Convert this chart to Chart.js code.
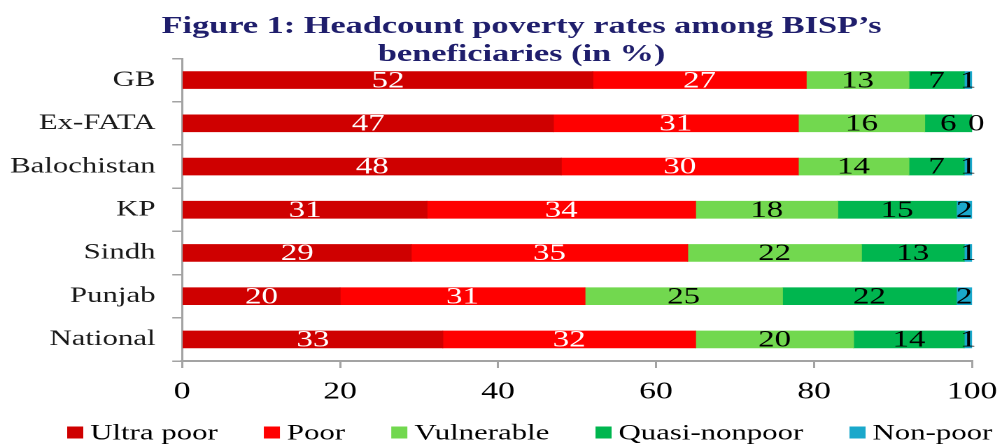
<!DOCTYPE html>
<html>
<head>
<meta charset="utf-8">
<script src="https://cdn.jsdelivr.net/npm/chart.js@4/dist/chart.umd.min.js"></script>
<style>
  html, body { margin: 0; padding: 0; background: #ffffff; overflow: hidden; }
  #wrap { position: absolute; left: 0; top: 0; width: 716px; height: 445px;
          transform: scaleX(1.39944); transform-origin: 0 0; }
  #c { display: block; }
</style>
</head>
<body>
<div id="wrap"><canvas id="c" width="716" height="445" style="width:716px;height:445px"></canvas></div>
<script>
const titleLines = ["Figure 1: Headcount poverty rates among BISP\u2019s", "beneficiaries (in %)"];
const categories = ["GB", "Ex-FATA", "Balochistan", "KP", "Sindh", "Punjab", "National"];
const seriesNames = ["Ultra poor", "Poor", "Vulnerable", "Quasi-nonpoor", "Non-poor"];
const ultraPoor    = [52, 47, 48, 31, 29, 20, 33];
const poor         = [27, 31, 30, 34, 35, 31, 32];
const vulnerable   = [13, 16, 14, 18, 22, 25, 20];
const quasiNonpoor = [7, 6, 7, 15, 13, 22, 14];
const nonPoor      = [1, 0, 1, 2, 1, 2, 1];
const xTicks = [0, 20, 40, 60, 80, 100];

const colors = ["#CF0000", "#FF0000", "#72D84F", "#00B64F", "#1AA8CB"];
const labelColors = ["#ffffff", "#ffffff", "#000000", "#000000", "#000000"];
const seriesValues = [ultraPoor, poor, vulnerable, quasiNonpoor, nonPoor];
const SERIF = '"Liberation Serif", "Times New Roman", serif';

const datasets = seriesNames.map((name, i) => ({
  label: name,
  data: seriesValues[i],
  backgroundColor: colors[i],
  borderWidth: 0,
  barThickness: 17
}));

const valueLabels = {
  id: 'valueLabels',
  afterDatasetsDraw(chart) {
    const ctx = chart.ctx;
    ctx.save();
    ctx.font = '23.5px ' + SERIF;
    ctx.textAlign = 'center';
    ctx.textBaseline = 'middle';
    chart.data.datasets.forEach((ds, di) => {
      const meta = chart.getDatasetMeta(di);
      meta.data.forEach((el, i) => {
        const v = ds.data[i];
        let cx = (el.x + el.base) / 2;
        if (v === 0) cx += 3;
        ctx.fillStyle = labelColors[di];
        ctx.fillText(String(v), cx, el.y + 1);
      });
    });
    ctx.restore();
  }
};

const titleAndLegend = {
  id: 'titleAndLegend',
  afterDraw(chart) {
    const ctx = chart.ctx;
    ctx.save();
    ctx.font = 'bold 24.5px ' + SERIF;
    ctx.fillStyle = '#1F1E6C';
    ctx.textAlign = 'center';
    ctx.textBaseline = 'alphabetic';
    ctx.fillText(titleLines[0], 372.7, 33);
    ctx.fillText(titleLines[1], 372.7, 61);
    ctx.font = '22px ' + SERIF;
    ctx.textAlign = 'left';
    ctx.textBaseline = 'middle';
    let x = 48;
    const yMid = 432.5;
    seriesNames.forEach((name, i) => {
      ctx.fillStyle = colors[i];
      ctx.fillRect(x, yMid - 6, 11.5, 12);
      ctx.fillStyle = '#000000';
      const tx = x + 11.5 + 5;
      ctx.fillText(name, tx, yMid + 1);
      x = tx + ctx.measureText(name).width + 33;
    });
    ctx.restore();
  }
};

new Chart(document.getElementById('c'), {
  type: 'bar',
  data: { labels: categories, datasets: datasets },
  options: {
    indexAxis: 'y',
    responsive: false,
    animation: false,
    devicePixelRatio: 2,
    layout: { padding: { top: 58.5, right: 21.4, left: 0, bottom: 0 } },
    plugins: {
      legend: { display: false },
      title: { display: false },
      tooltip: { enabled: false }
    },
    scales: {
      x: {
        stacked: true,
        min: 0,
        max: 100,
        afterBuildTicks(scale) { scale.ticks = xTicks.map(v => ({ value: v })); },
        afterFit(scale) { scale.height = 84; scale.paddingLeft = 0; scale.paddingRight = 0; },
        grid: { drawOnChartArea: false, drawTicks: true, tickLength: 7, color: '#A3A3A3', lineWidth: 1.5 },
        border: { display: true, color: '#A3A3A3', width: 2 },
        ticks: { font: { family: SERIF, size: 24 }, color: '#000000', padding: 10, maxRotation: 0 }
      },
      y: {
        stacked: true,
        afterFit(scale) { scale.width = 130.1; scale.paddingTop = 0; scale.paddingBottom = 0; },
        grid: { drawOnChartArea: false, drawTicks: true, tickLength: 7, offset: true, color: '#A3A3A3', lineWidth: 1.5 },
        border: { display: true, color: '#A3A3A3', width: 1.5 },
        ticks: { font: { family: SERIF, size: 22 }, color: '#1A1A1A', padding: 12 }
      }
    }
  },
  plugins: [valueLabels, titleAndLegend]
});
</script>
</body>
</html>
